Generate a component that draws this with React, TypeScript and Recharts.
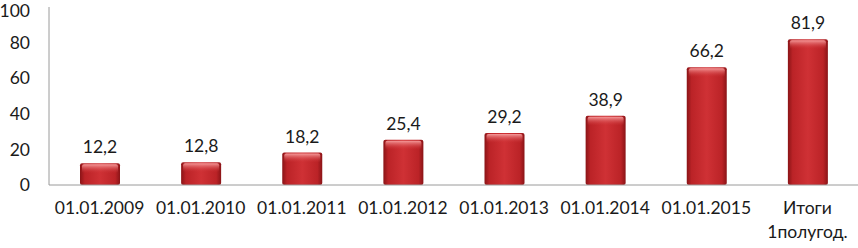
import { BarChart, Bar, XAxis, YAxis, LabelList } from 'recharts'

const categories = ['01.01.2009', '01.01.2010', '01.01.2011', '01.01.2012', '01.01.2013', '01.01.2014', '01.01.2015', 'Итоги 1полугод.']
const values = [12.2, 12.8, 18.2, 25.4, 29.2, 38.9, 66.2, 81.9]
const yTicks = [0, 20, 40, 60, 80, 100]

const data = categories.map((name, i) => ({ name, value: values[i] }))

const FONT = 'Lato, "Open Sans", sans-serif'

const XTick = (props: any) => {
  const { x, y, payload } = props
  const words = String(payload.value).split(' ')
  return (
    <g transform={`translate(${x},${y})`}>
      {words.map((w, i) => (
        <text key={i} x={0} y={21 + i * 24} textAnchor="middle" fill="#1a1a1a" fontSize={17.5} fontFamily={FONT}>
          {w}
        </text>
      ))}
    </g>
  )
}

const BarShape = (props: any) => {
  const { x, y, width, height } = props
  return (
    <g>
      <rect x={x} y={y} width={width} height={height} rx={2} ry={2} fill="url(#barGrad)" />
      <rect x={x + 2} y={y + 1} width={width - 4} height={Math.min(9, height - 2)} rx={2} ry={2} fill="url(#topGrad)" />
    </g>
  )
}

export default function App() {
  return (
    <div style={{ position: 'absolute', left: 0, top: 0, width: 858, height: 248, background: '#fff' }}>
      <BarChart width={858} height={248} data={data} margin={{ top: 7, right: 0, left: 0, bottom: 0 }} barSize={40}>
        <defs>
          <linearGradient id="barGrad" x1="0" y1="0" x2="1" y2="0">
            <stop offset="0%" stopColor="#8a1417" />
            <stop offset="12%" stopColor="#bb2327" />
            <stop offset="50%" stopColor="#cf3135" />
            <stop offset="88%" stopColor="#bb2327" />
            <stop offset="100%" stopColor="#8a1417" />
          </linearGradient>
          <linearGradient id="topGrad" x1="0" y1="0" x2="0" y2="1">
            <stop offset="0%" stopColor="#f7a0a0" stopOpacity={0.95} />
            <stop offset="100%" stopColor="#cf3135" stopOpacity={0} />
          </linearGradient>
        </defs>
        <XAxis
          dataKey="name"
          height={63}
          tick={<XTick />}
          tickLine={false}
          axisLine={{ stroke: '#9a9a9a' }}
          interval={0}
        />
        <YAxis
          width={49}
          domain={[0, 100]}
          ticks={yTicks}
          tickLine={false}
          tickMargin={13}
          axisLine={{ stroke: '#9a9a9a' }}
          tick={{ fill: '#1a1a1a', fontSize: 17.5, fontFamily: FONT }}
        />
        <Bar dataKey="value" shape={<BarShape />} isAnimationActive={false}>
          <LabelList
            dataKey="value"
            position="top"
            offset={10}
            formatter={(v: any) => String(v).replace('.', ',')}
            style={{ fill: '#1a1a1a', fontSize: 17.5, fontFamily: FONT }}
          />
        </Bar>
      </BarChart>
    </div>
  )
}
